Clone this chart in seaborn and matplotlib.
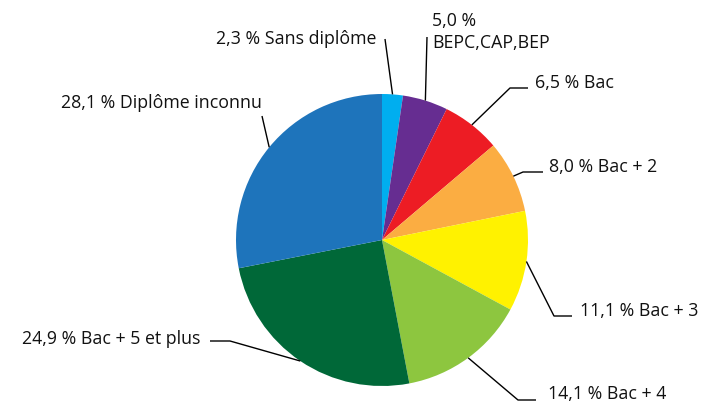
import numpy as np
import matplotlib
matplotlib.use("Agg")
import matplotlib.pyplot as plt
import seaborn as sns

# shares in % (clockwise from the top)
categories = ["Sans diplôme", "BEPC,CAP,BEP", "Bac", "Bac + 2", "Bac + 3",
              "Bac + 4", "Bac + 5 et plus", "Diplôme inconnu"]
shares = [2.3, 5.0, 6.5, 8.0, 11.1, 14.1, 24.9, 28.1]
colors = ["#00AEEF", "#662D91", "#ED1C24", "#FBAD42", "#FFF200",
          "#8DC63F", "#006838", "#1E74BB"]

# label layout in pixels: (elbow x, elbow y, line end x, text x, text y, ha)
# elbow None -> straight line up to line end
layout = [
    (None, None, (385, 40), 376, 39, "right"),
    (None, None, (427, 38), 432, 32, "left"),
    (510, 89, (528, 89), 535, 83, "left"),
    (523, 173, (543, 173), 549, 167, "left"),
    (554, 317, (572, 317), 580, 311, "left"),
    (518, 401, (536, 401), 548, 394, "left"),
    (230, 342, (210, 342), 200, 339, "right"),
    (None, None, (262, 117), 262, 103, "right"),
]

sns.set_theme(style="white")
plt.rcParams["font.family"] = ["Open Sans", "DejaVu Sans"]

W, H = 706, 406
cx, cy, R = 382, 241, 146

fig = plt.figure(figsize=(W / 100, H / 100), dpi=100)
ax = fig.add_axes([0, 0, 1, 1])


def px(x, y):
    return (x - cx) / R, (cy - y) / R


wedges, _ = ax.pie(shares, colors=colors, startangle=90, counterclock=False,
                   radius=1.0, wedgeprops=dict(linewidth=0))

ax.set_xlim(-cx / R, (W - cx) / R)
ax.set_ylim(-(H - cy) / R, cy / R)
ax.set_aspect("equal")
ax.axis("off")

for w, val, cat, (ex, ey, end, tx, ty, ha) in zip(wedges, shares, categories, layout):
    ang = np.deg2rad((w.theta1 + w.theta2) / 2)
    start = (np.cos(ang), np.sin(ang))
    pts = [start]
    if ex is not None:
        pts.append(px(ex, ey))
    pts.append(px(*end))
    xs, ys = zip(*pts)
    ax.plot(xs, ys, color="black", lw=1.0, solid_capstyle="butt")
    num = f"{val:.1f}".replace(".", ",")
    if cat == "BEPC,CAP,BEP":
        txt = f"{num} %\n{cat}"
    else:
        txt = f"{num} % {cat}"
    ax.text(*px(tx, ty), txt, ha=ha, va="center", fontsize=12.8,
            color="#111111", linespacing=1.3)

fig.savefig("out.png", dpi=100)
